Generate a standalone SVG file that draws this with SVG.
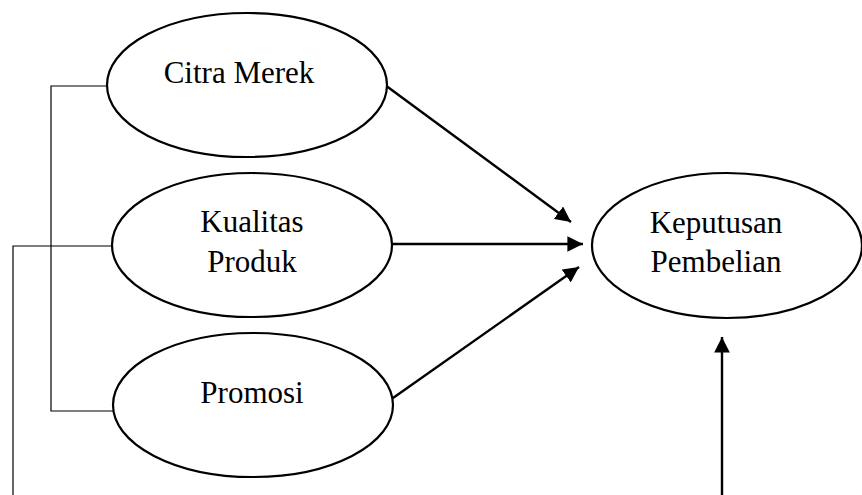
<svg xmlns="http://www.w3.org/2000/svg" width="862" height="495" viewBox="0 0 862 495">
<style>
.node ellipse{fill:#fff;stroke:#000;stroke-width:2.2}
.node text{font-family:"Liberation Serif","Times New Roman",serif;font-size:31px;fill:#000;text-anchor:middle}
.thin{fill:none;stroke:#000;stroke-width:1.2}
.arr{fill:none;stroke:#000;stroke-width:2.4;marker-end:url(#ah)}
</style>
<defs>
<marker id="ah" viewBox="0 0 10 10" refX="10" refY="5" markerWidth="6.5" markerHeight="6.5" markerUnits="strokeWidth" orient="auto">
<path d="M0,0 L10,5 L0,10 z" fill="#000"/>
</marker>
</defs>
<g id="connectors">
<polyline class="thin" points="107,86 51,86 51,411 113,411"/>
<polyline class="thin" points="112,246 13,246 13,495"/>
<line class="arr" x1="385" y1="85" x2="571" y2="222"/>
<line class="arr" x1="392" y1="244" x2="583" y2="244"/>
<line class="arr" x1="393" y1="398" x2="579" y2="267"/>
<line class="arr" x1="722" y1="495" x2="722" y2="337"/>
</g>
<g id="citra-merek" class="node">
<ellipse cx="247" cy="85" rx="140" ry="72"/>
<text x="239" y="83">Citra Merek</text>
</g>
<g id="kualitas-produk" class="node">
<ellipse cx="252" cy="245" rx="140" ry="72"/>
<text x="252" y="232">Kualitas</text>
<text x="252" y="272">Produk</text>
</g>
<g id="promosi" class="node">
<ellipse cx="253" cy="405" rx="140" ry="72"/>
<text x="252" y="403">Promosi</text>
</g>
<g id="keputusan-pembelian" class="node">
<ellipse cx="727" cy="245.5" rx="135" ry="72.5"/>
<text x="716" y="233">Keputusan</text>
<text x="716" y="272">Pembelian</text>
</g>
</svg>
